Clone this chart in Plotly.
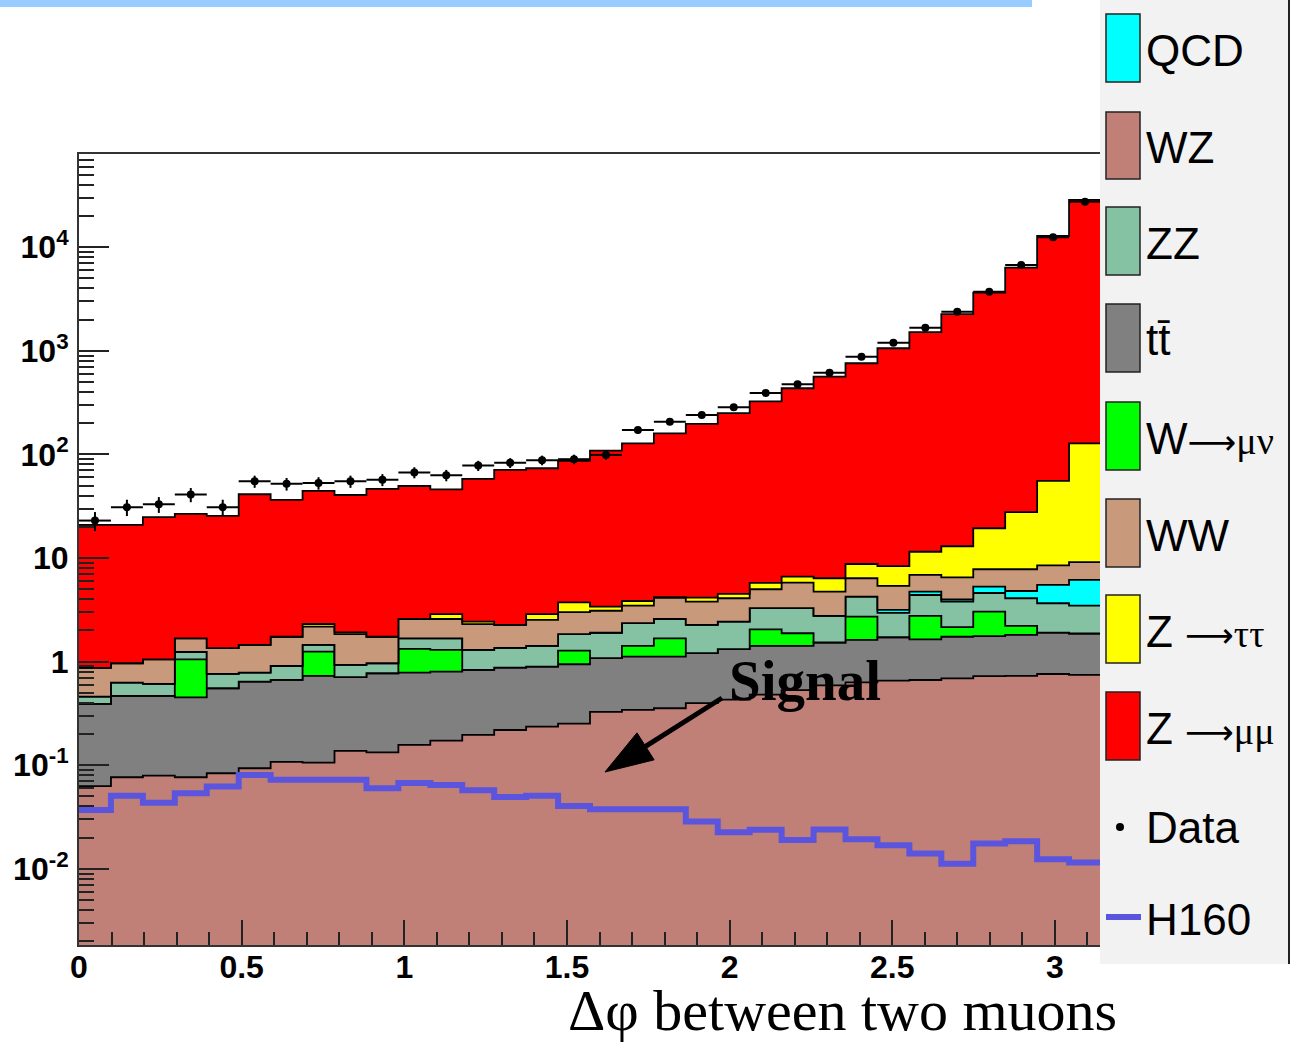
import numpy as np
import plotly.graph_objects as go

W, H = 1293, 1045

# 32 bins of delta-phi between the two muons, 0 .. pi
n_bins = 32
edges = np.linspace(0.0, np.pi, n_bins + 1)
centers = 0.5 * (edges[:-1] + edges[1:])
half_width = 0.5 * (edges[1] - edges[0])

# Expected events per bin for each background (stacked bottom to top)
wz = [0.063, 0.0766, 0.0794, 0.0766, 0.0837, 0.0935, 0.108, 0.106, 0.1375, 0.133,
      0.157, 0.173, 0.196, 0.219, 0.236, 0.252, 0.327, 0.342, 0.355, 0.397,
      0.43, 0.48, 0.53, 0.59, 0.63, 0.655, 0.665, 0.69, 0.725, 0.73, 0.76, 0.745]
ttbar = [0.328, 0.390, 0.388, 0.376, 0.470, 0.548, 0.558, 0.622, 0.570, 0.640,
         0.626, 0.627, 0.636, 0.656, 0.659, 0.692, 0.753, 0.778, 0.765, 0.813,
         0.89, 0.94, 0.89, 0.94, 0.99, 1.065, 0.975, 1.05, 1.035, 1.08, 1.15, 1.125]
w_munu = [0, 0, 0, 0.597, 0, 0, 0, 0.522, 0, 0,
          0.547, 0.50, 0, 0, 0, 0.336, 0, 0.30, 0.56, 0,
          0, 0.63, 0.46, 0, 1.10, 0, 1.12, 0.41, 1.28, 0.40, 0, 0]
zz = [0.068, 0.160, 0.142, 0.19, 0.207, 0.142, 0.242, 0.20, 0.222, 0.192,
      0.35, 0.38, 0.468, 0.485, 0.525, 0.56, 0.82, 0.93, 0.90, 1.05,
      1.11, 1.23, 1.40, 1.23, 1.52, 1.23, 1.64, 1.65, 1.56, 1.88, 1.75, 1.60]
qcd = [0, 0, 0, 0, 0, 0, 0, 0, 0, 0,
       0, 0, 0, 0, 0, 0, 0, 0, 0, 0,
       0, 0, 0, 0, 0, 0.21, 0.34, 0.18, 0.70, 0.72, 1.84, 2.68]
ww = [0.41, 0.338, 0.441, 0.44, 0.589, 0.667, 0.832, 0.73, 0.911, 0.775,
      0.90, 0.90, 1.00, 0.90, 1.11, 1.16, 1.20, 1.12, 1.54, 1.53,
      1.66, 1.72, 2.51, 1.98, 2.14, 2.22, 2.13, 2.54, 2.50, 2.99, 3.00, 3.00]
z_tautau = [0, 0, 0, 0, 0, 0, 0, 0.13, 0.08, 0,
            0, 0.29, 0.13, 0, 0.34, 0.74, 0.30, 0.38, 0.08, 0.36,
            0.42, 0.75, 0.82, 1.64, 2.38, 2.97, 4.63, 6.48, 11.6, 19.9, 47.0, 118.9]
z_mumu = [20.0, 19.9, 23.75, 25.0, 24.15, 39.85, 34.66, 42.2, 38.7, 44.8,
          47.0, 43.2, 55.6, 68.6, 70.7, 82.8, 105.4, 124.2, 155.8, 192.9,
          245.5, 320, 429, 558, 750, 1051, 1502, 2246, 3631, 6332, 12795, 28472]

# Observed events
data = [23, 31, 33, 41, 31, 55, 52, 53, 55, 57,
        67, 63, 78, 83, 88, 90, 99, 172, 207, 240,
        286, 392, 476, 616, 879, 1200, 1675, 2390, 3726, 6750, 12500, 27550]

# Higgs (m_H = 160) signal expectation, drawn unstacked
h160 = [0.037, 0.0509, 0.0435, 0.0536, 0.0625, 0.0805, 0.0725, 0.0725, 0.0725, 0.060,
        0.0675, 0.0645, 0.0573, 0.0495, 0.0509, 0.0405, 0.0376, 0.0376, 0.0376, 0.0286,
        0.0225, 0.0238, 0.0190, 0.024, 0.0193, 0.0169, 0.0141, 0.0112, 0.0176, 0.0185, 0.0124, 0.0115]

stack = [
    ("WZ", wz, "#c08078"),
    ("tt\u0304", ttbar, "#808080"),
    ("W→μν", w_munu, "#00ff00"),
    ("ZZ", zz, "#85c1a3"),
    ("QCD", qcd, "#00ffff"),
    ("WW", ww, "#c8997a"),
    ("Z →ττ", z_tautau, "#ffff00"),
    ("Z →μμ", z_mumu, "#ff0000"),
]

# plot area in pixels
X0, X1 = 79, 1101
Y0, Y1 = 154, 945
y_lo, y_hi = -2.735, 4.90


def px(x):
    return x / W


def py(y):
    return 1 - y / H


def step_y(vals):
    v = list(vals)
    return v + [v[-1]]


fig = go.Figure()

# invisible floor for the first filled layer
fig.add_trace(go.Scatter(x=edges, y=[1e-4] * (n_bins + 1), mode="lines",
                         line=dict(width=0, shape="hv"), showlegend=False,
                         hoverinfo="skip"))

cum = np.zeros(n_bins)
for name, vals, color in stack:
    cum = cum + np.array(vals, dtype=float)
    fig.add_trace(go.Scatter(
        x=edges, y=step_y(cum), mode="lines", name=name,
        line=dict(color="black", width=1.8, shape="hv"),
        fill="tonexty", fillcolor=color, showlegend=False))

fig.add_trace(go.Scatter(
    x=edges, y=step_y(h160), mode="lines", name="H160",
    line=dict(color="#5b55dd", width=6, shape="hv"), showlegend=False))

data_arr = np.array(data, dtype=float)
fig.add_trace(go.Scatter(
    x=centers, y=data_arr, mode="markers", name="Data",
    marker=dict(color="black", size=8),
    error_y=dict(type="data", array=np.sqrt(data_arr), color="black",
                 thickness=2, width=0),
    error_x=dict(type="data", array=[half_width] * n_bins, color="black",
                 thickness=2, width=0),
    showlegend=False))

tick_font = dict(family="Liberation Sans, Arial", size=32, color="black")

x_major = [0, 0.5, 1, 1.5, 2, 2.5, 3]
x_labels = ["<b>0</b>", "<b>0.5</b>", "<b>1</b>", "<b>1.5</b>", "<b>2</b>", "<b>2.5</b>", "<b>3</b>"]
x_minor = [round(0.1 * i, 1) for i in range(32)]

y_major = [1e-2, 1e-1, 1, 10, 1e2, 1e3, 1e4]
y_labels = ["<b>10<sup>-2</sup></b>", "<b>10<sup>-1</sup></b>", "<b>1</b>", "<b>10</b>",
            "<b>10<sup>2</sup></b>", "<b>10<sup>3</sup></b>", "<b>10<sup>4</sup></b>"]
y_minor = [m * 10.0 ** e for e in range(-3, 5) for m in range(2, 10)]

fig.update_layout(
    width=W, height=H,
    margin=dict(l=0, r=0, t=0, b=0),
    paper_bgcolor="white", plot_bgcolor="white",
    showlegend=False,
    xaxis=dict(
        domain=[px(X0), px(X1)], range=[0, np.pi], automargin=False,
        tickmode="array", tickvals=x_major, ticktext=x_labels,
        ticks="inside", ticklen=25, tickwidth=2, tickcolor="#222",
        tickfont=tick_font, ticklabelstandoff=-7,
        minor=dict(tickmode="array", tickvals=x_minor, ticks="inside",
                   ticklen=13, tickwidth=2, tickcolor="#222", showgrid=False),
        showline=True, linecolor="#333", linewidth=2, mirror=True,
        showgrid=False, zeroline=False),
    yaxis=dict(
        domain=[py(Y1), py(Y0)], type="log", range=[y_lo, y_hi], automargin=False,
        tickmode="array", tickvals=y_major, ticktext=y_labels,
        ticks="inside", ticklen=30, tickwidth=2, tickcolor="#222",
        tickfont=tick_font, ticklabelstandoff=2,
        minor=dict(tickmode="array", tickvals=y_minor, ticks="inside",
                   ticklen=15, tickwidth=2, tickcolor="#222", showgrid=False),
        showline=True, linecolor="#333", linewidth=2, mirror=True,
        showgrid=False, zeroline=False),
)

shapes = []
annotations = []

# light blue band across the top of the page
shapes.append(dict(type="rect", xref="paper", yref="paper",
                   x0=px(0), x1=px(1032), y0=py(7), y1=py(0),
                   fillcolor="#99ccff", line=dict(width=0), layer="above"))

# legend panel
shapes.append(dict(type="rect", xref="paper", yref="paper",
                   x0=px(1100), x1=px(1290), y0=py(964), y1=py(0),
                   fillcolor="#f2f2f2", line=dict(width=0), layer="above"))
shapes.append(dict(type="line", xref="paper", yref="paper",
                   x0=px(1289), x1=px(1289), y0=py(964), y1=py(0),
                   line=dict(color="#222", width=2), layer="above"))

legend_font = dict(family="Liberation Sans, Arial", size=44, color="black")
arrow = '<span style="font-family:DejaVu Sans;font-size:34px">\u27f6</span>'
greek = '<span style="font-family:Liberation Serif;font-size:38px">{}</span>'
legend_rows = [
    ("#00ffff", 14, 82, "QCD"),
    ("#c08078", 112, 179, "WZ"),
    ("#85c1a3", 207, 275, "ZZ"),
    ("#808080", 304, 372, "tt\u0304"),
    ("#00ff00", 402, 470, "W" + arrow + greek.format("μν")),
    ("#c8997a", 499, 567, "WW"),
    ("#ffff00", 595, 663, "Z " + arrow + greek.format("ττ")),
    ("#ff0000", 692, 760, "Z " + arrow + greek.format("μμ")),
]
for color, top, bottom, label in legend_rows:
    shapes.append(dict(type="rect", xref="paper", yref="paper",
                       x0=px(1106), x1=px(1140), y0=py(bottom), y1=py(top),
                       fillcolor=color, line=dict(color="#222", width=1.5),
                       layer="above"))
    annotations.append(dict(xref="paper", yref="paper", x=px(1144),
                            y=py((top + bottom) / 2 + 2), text=label,
                            xanchor="left", yanchor="middle", showarrow=False,
                            font=legend_font))

# Data entry
shapes.append(dict(type="circle", xref="paper", yref="paper",
                   x0=px(1116), x1=px(1124), y0=py(831), y1=py(823),
                   fillcolor="black", line=dict(width=0), layer="above"))
annotations.append(dict(xref="paper", yref="paper", x=px(1144), y=py(827),
                        text="Data", xanchor="left", yanchor="middle",
                        showarrow=False, font=legend_font))
# H160 entry
shapes.append(dict(type="line", xref="paper", yref="paper",
                   x0=px(1106), x1=px(1141), y0=py(917), y1=py(917),
                   line=dict(color="#5b55dd", width=6), layer="above"))
annotations.append(dict(xref="paper", yref="paper", x=px(1144), y=py(919),
                        text="H160", xanchor="left", yanchor="middle",
                        showarrow=False, font=legend_font))

# "Signal" label with its arrow
annotations.append(dict(xref="paper", yref="paper", x=px(727), y=py(680),
                        text="<b>Signal</b>", xanchor="left", yanchor="middle",
                        showarrow=False,
                        font=dict(family="Liberation Serif, Times New Roman",
                                  size=57, color="black")))
tail = (722, 698)
tip = (605, 772)
d = np.array(tip) - np.array(tail)
u = d / np.linalg.norm(d)
base = np.array(tip) - 48 * u
perp = np.array([u[1], -u[0]]) * 16
c1 = base + perp
c2 = base - perp
shapes.append(dict(type="line", xref="paper", yref="paper",
                   x0=px(tail[0]), y0=py(tail[1]), x1=px(base[0]), y1=py(base[1]),
                   line=dict(color="black", width=5), layer="above"))
shapes.append(dict(type="path", xref="paper", yref="paper",
                   path="M {:.5f},{:.5f} L {:.5f},{:.5f} L {:.5f},{:.5f} Z".format(
                       px(tip[0]), py(tip[1]), px(c1[0]), py(c1[1]), px(c2[0]), py(c2[1])),
                   fillcolor="black", line=dict(color="black", width=1), layer="above"))

# x-axis title
annotations.append(dict(xref="paper", yref="paper", x=px(1119), y=py(1045),
                        text="Δφ between two muons", xanchor="right",
                        yanchor="bottom", showarrow=False,
                        font=dict(family="Liberation Serif, Times New Roman",
                                  size=58, color="black")))

fig.update_layout(shapes=shapes, annotations=annotations)

fig.write_html("out.html")
